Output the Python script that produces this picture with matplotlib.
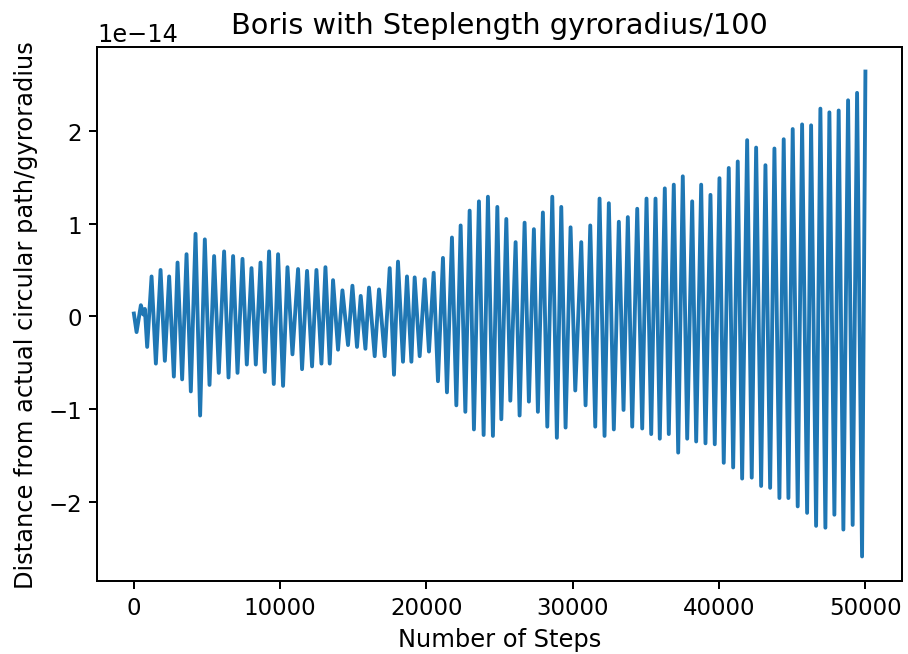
import matplotlib
matplotlib.use("Agg")
import matplotlib.pyplot as plt

# Extrema of the deviation curve (x: step, y: units of 1e-14)
steps = [0, 184, 478, 635, 751, 908, 1209, 1503, 1824, 2117, 2411, 2732, 2985, 3299, 3599,
         3893, 4214, 4528, 4849, 5170, 5484, 5806, 6167, 6468, 6782, 7083, 7424, 7718,
         8039, 8333, 8654, 8947, 9241, 9562, 9856, 10197, 10498, 10839, 11222, 11495,
         11836, 12178, 12478, 12820, 13093, 13387, 13612, 13954, 14254, 14637, 14937,
         15251, 15504, 15825, 16071, 16460, 16754, 17143, 17485, 17778, 18052, 18393,
         18666, 18967, 19192, 19534, 19875, 20169, 20490, 20784, 21125, 21398, 21740,
         22040, 22334, 22655, 22949, 23242, 23584, 23905, 24199, 24540, 24841, 25114,
         25455, 25729, 26091, 26364, 26705, 26999, 27340, 27614, 27955, 28256, 28597,
         28911, 29212, 29506, 29847, 30168, 30578, 30872, 31193, 31534, 31828, 32169,
         32463, 32804, 33146, 33467, 33761, 34061, 34403, 34744, 35038, 35359, 35653,
         35946, 36288, 36561, 36902, 37203, 37517, 37818, 38159, 38432, 38774, 39068,
         39409, 39703, 40024, 40317, 40659, 40960, 41274, 41574, 41916, 42230, 42530,
         42872, 43166, 43487, 43780, 44122, 44415, 44737, 45030, 45372, 45672, 46014,
         46287, 46628, 46922, 47264, 47537, 47878, 48172, 48493, 48814, 49128, 49429,
         49770, 50000]

values = [0.03, -0.17, 0.12, 0.02, 0.08, -0.33, 0.43, -0.51, 0.50, -0.48, 0.43, -0.65,
          0.58, -0.68, 0.67, -0.81, 0.89, -1.07, 0.83, -0.74, 0.65, -0.61, 0.70, -0.66,
          0.65, -0.61, 0.62, -0.52, 0.52, -0.52, 0.58, -0.60, 0.70, -0.73, 0.67, -0.75,
          0.53, -0.41, 0.51, -0.57, 0.49, -0.54, 0.50, -0.51, 0.53, -0.51, 0.39, -0.36,
          0.28, -0.31, 0.33, -0.33, 0.22, -0.35, 0.31, -0.43, 0.29, -0.43, 0.52, -0.63,
          0.59, -0.49, 0.43, -0.49, 0.42, -0.43, 0.40, -0.38, 0.47, -0.70, 0.63, -0.82,
          0.85, -0.96, 0.98, -1.03, 1.14, -1.22, 1.24, -1.28, 1.29, -1.29, 1.18, -1.11,
          1.05, -0.91, 0.80, -1.07, 1.01, -0.92, 0.94, -1.03, 1.12, -1.19, 1.29, -1.31,
          1.18, -1.20, 0.96, -0.80, 0.80, -0.96, 0.98, -1.19, 1.27, -1.29, 1.22, -1.22,
          1.02, -1.01, 1.07, -1.19, 1.16, -1.21, 1.27, -1.27, 1.27, -1.32, 1.38, -1.27,
          1.42, -1.47, 1.51, -1.32, 1.24, -1.35, 1.42, -1.37, 1.31, -1.38, 1.49, -1.58,
          1.60, -1.63, 1.67, -1.75, 1.90, -1.74, 1.82, -1.83, 1.63, -1.85, 1.81, -1.96,
          1.91, -1.96, 2.02, -2.05, 2.07, -2.12, 2.06, -2.26, 2.24, -2.28, 2.20, -2.14,
          2.22, -2.30, 2.33, -2.25, 2.41, -2.59, 2.64]

scale = 1e-14
title = "Boris with Steplength gyroradius/100"
xlabel = "Number of Steps"
ylabel = "Distance from actual circular path/gyroradius"
xticks = [0, 10000, 20000, 30000, 40000, 50000]

plt.rcParams["xtick.labelsize"] = 11
plt.rcParams["ytick.labelsize"] = 11
plt.rcParams["axes.linewidth"] = 0.95
plt.rcParams["xtick.major.width"] = 0.95
plt.rcParams["ytick.major.width"] = 0.95
plt.rcParams["xtick.major.size"] = 3.8
plt.rcParams["ytick.major.size"] = 3.8

fig = plt.figure(figsize=(909 / 150, 655 / 150), dpi=150)
ax = fig.add_axes([97.3 / 909, (655 - 581.7) / 655, (902 - 97.3) / 909, (581.7 - 48.3) / 655])
ax.plot(steps, [v * scale for v in values], color="#1f77b4", linewidth=1.85,
        solid_joinstyle="round")
ax.set_title(title, fontsize=13.8, pad=7)
ax.set_xlabel(xlabel, fontsize=11.6, labelpad=4)
ax.set_ylabel(ylabel, fontsize=11.6, labelpad=5)
ax.set_xticks(xticks)
ax.yaxis.get_offset_text().set_fontsize(11.5)
fig.savefig("out.png", dpi=150)
